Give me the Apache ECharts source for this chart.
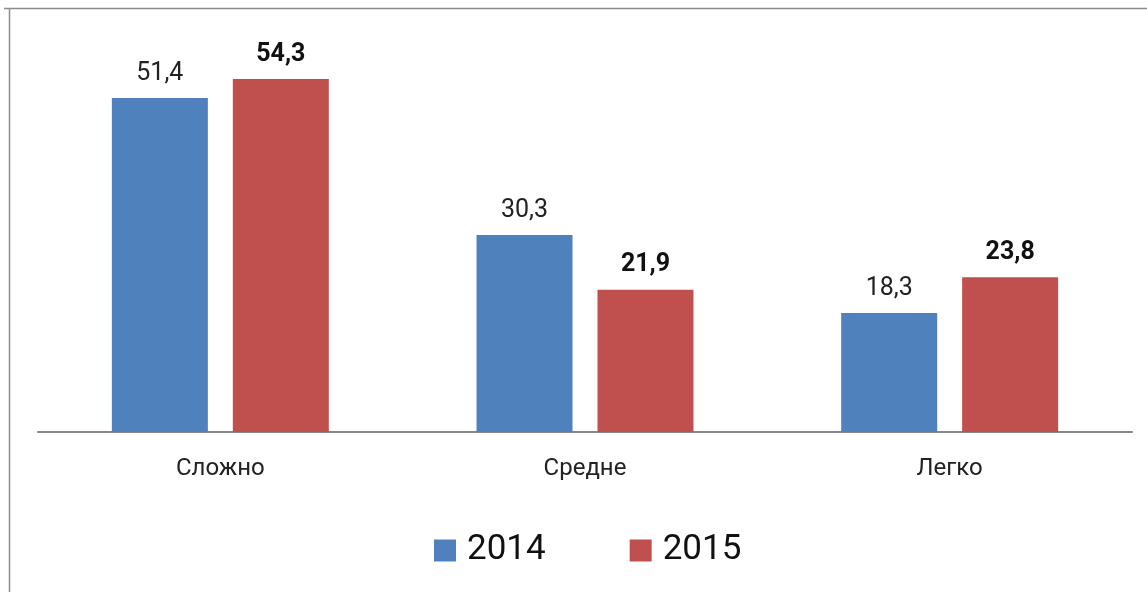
<!DOCTYPE html>
<html><head><meta charset="utf-8">
<script src="https://cdn.jsdelivr.net/npm/echarts@6/dist/echarts.min.js"></script>
<style>html,body{margin:0;padding:0;background:#fff}#c{width:1147px;height:592px}</style>
</head><body><div id="c"></div>
<script>
const categories = ['Сложно', 'Средне', 'Легко'];
const seriesNames = ['2014', '2015'];
const values2014 = [51.4, 30.3, 18.3];
const values2015 = [54.3, 21.9, 23.8];

const chart = echarts.init(document.getElementById('c'));
const fmt = p => String(p.value).replace('.', ',');
const font = 'Roboto, "DejaVu Sans", sans-serif';
chart.setOption({
  animation: false,
  graphic: [
    {type: 'line', shape: {x1: 4, y1: 8.5, x2: 1147, y2: 8.5}, style: {stroke: '#8c8c8c', lineWidth: 1.5}},
    {type: 'line', shape: {x1: 9.5, y1: 8, x2: 9.5, y2: 592}, style: {stroke: '#8c8c8c', lineWidth: 1.5}}
  ],
  legend: {
    bottom: 19, left: 429, itemWidth: 22, itemHeight: 22, itemGap: 84,
    icon: 'rect',
    textStyle: {fontSize: 35, color: '#111', fontFamily: font, padding: [0, 0, 0, 6]},
    data: seriesNames
  },
  grid: {left: 38, right: 15, top: 42, bottom: 160},
  xAxis: {
    type: 'category', data: categories,
    axisLine: {lineStyle: {color: '#888', width: 2}},
    axisTick: {show: false},
    axisLabel: {fontSize: 24, color: '#222', margin: 25, fontFamily: font}
  },
  yAxis: {type: 'value', min: 0, max: 60, show: false, splitLine: {show: false}},
  series: [
    {name: seriesNames[0], type: 'bar', data: values2014, barWidth: 96, barGap: '26%',
     itemStyle: {color: '#4f81bd'},
     label: {show: true, position: 'top', distance: 12, fontSize: 25, color: '#222', fontFamily: font, formatter: fmt}},
    {name: seriesNames[1], type: 'bar', data: values2015, barWidth: 96,
     itemStyle: {color: '#c0504d'},
     label: {show: true, position: 'top', distance: 12, fontSize: 25, fontWeight: 'bold', color: '#111', fontFamily: font, formatter: fmt}}
  ]
});
</script></body></html>
